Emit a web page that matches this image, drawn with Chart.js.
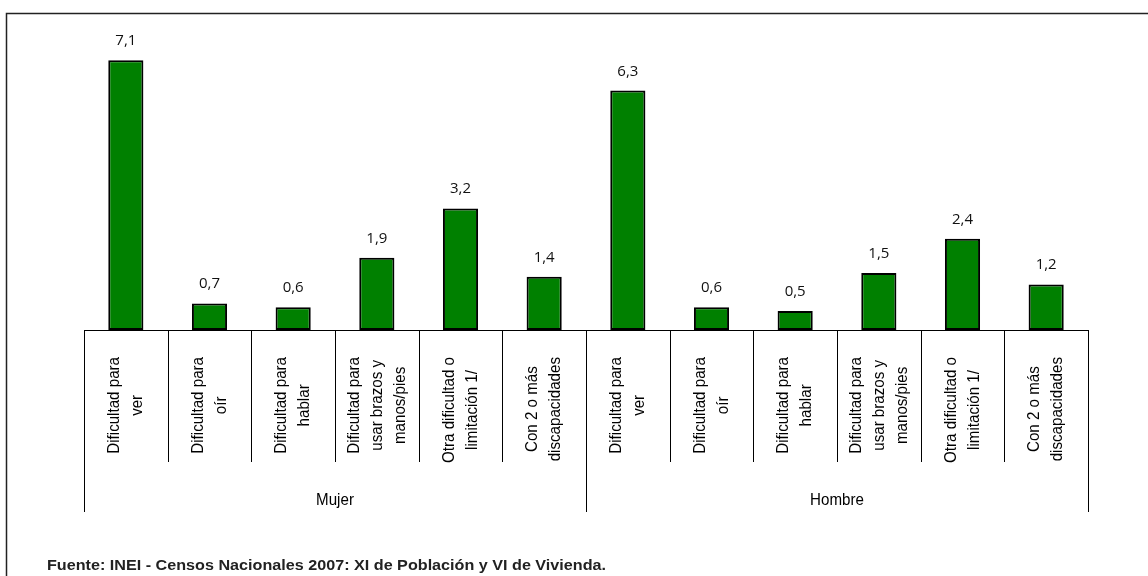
<!DOCTYPE html>
<html>
<head>
<meta charset="utf-8">
<script src="https://cdn.jsdelivr.net/npm/chart.js@4/dist/chart.umd.min.js"></script>
<style>
html,body{margin:0;padding:0;background:#fff;}
canvas{display:block;}
</style>
</head>
<body>
<canvas id="c" width="1148" height="576"></canvas>
<script>
const groups = ['Mujer', 'Hombre'];
const subcategories = [
  ['Dificultad para', 'ver'],
  ['Dificultad para', 'oír'],
  ['Dificultad para', 'hablar'],
  ['Dificultad para', 'usar brazos y', 'manos/pies'],
  ['Otra dificultad o', 'limitación 1/'],
  ['Con 2 o más', 'discapacidades']
];
const mujerValues = [7.1, 0.7, 0.6, 1.9, 3.2, 1.4];
const hombreValues = [6.3, 0.6, 0.5, 1.5, 2.4, 1.2];
const sourceNote = 'Fuente: INEI - Censos Nacionales 2007: XI de Población y VI de Vivienda.';

const labels = [];
const values = [];
groups.forEach((g, gi) => {
  subcategories.forEach((s, si) => {
    labels.push(s);
    values.push(gi === 0 ? mujerValues[si] : hombreValues[si]);
  });
});

const LABEL_FONT = '17px "Liberation Sans", Arial, sans-serif';
const LABEL_SX = 0.89;

const decorPlugin = {
  id: 'decor',
  beforeDraw(chart) {
    const ctx = chart.ctx;
    ctx.save();
    ctx.fillStyle = '#fff';
    ctx.fillRect(0, 0, chart.width, chart.height);
    ctx.strokeStyle = '#222';
    ctx.lineWidth = 1.5;
    ctx.beginPath();
    ctx.moveTo(6.5, 576);
    ctx.lineTo(6.5, 13.5);
    ctx.lineTo(1148, 13.5);
    ctx.stroke();
    ctx.restore();
  },
  afterDatasetsDraw(chart) {
    const ctx = chart.ctx;
    const xs = chart.scales.x;
    const ca = chart.chartArea;
    const n = labels.length;
    const step = (ca.right - ca.left) / n;
    const perGroup = subcategories.length;
    ctx.save();
    ctx.strokeStyle = '#000';
    ctx.lineWidth = 1;
    ctx.beginPath();
    ctx.moveTo(ca.left, Math.round(ca.bottom) + 0.5);
    ctx.lineTo(ca.right, Math.round(ca.bottom) + 0.5);
    ctx.stroke();
    for (let k = 0; k <= n; k++) {
      const x = Math.round(xs.getPixelForValue(Math.min(k, n - 1)) + (k === n ? step / 2 : -step / 2)) + 0.5;
      const isGroup = k % perGroup === 0;
      ctx.beginPath();
      ctx.moveTo(x, ca.bottom);
      ctx.lineTo(x, isGroup ? 512 : 462);
      ctx.stroke();
    }
    ctx.fillStyle = '#111';
    ctx.font = '15px "Open Sans", sans-serif';
    ctx.textAlign = 'center';
    ctx.textBaseline = 'alphabetic';
    const meta = chart.getDatasetMeta(0);
    meta.data.forEach((bar, i) => {
      ctx.fillText(values[i].toFixed(1).replace('.', ','), bar.x, bar.y - 15);
    });
    ctx.font = LABEL_FONT;
    ctx.fillStyle = '#000';
    const lineH = 23;
    labels.forEach((lines, i) => {
      const cx = xs.getPixelForValue(i);
      const widths = lines.map(l => ctx.measureText(l).width * LABEL_SX);
      const maxW = Math.max(...widths);
      const cy = 357 + maxW / 2;
      lines.forEach((l, li) => {
        const lx = cx + (li - (lines.length - 1) / 2) * lineH;
        ctx.save();
        ctx.translate(lx, cy);
        ctx.rotate(-Math.PI / 2);
        ctx.scale(LABEL_SX, 1);
        ctx.textAlign = 'center';
        ctx.textBaseline = 'middle';
        ctx.fillText(l, 0, 0);
        ctx.restore();
      });
    });
    groups.forEach((g, gi) => {
      const first = xs.getPixelForValue(gi * perGroup) - step / 2;
      const last = xs.getPixelForValue(gi * perGroup + perGroup - 1) + step / 2;
      ctx.save();
      ctx.translate((first + last) / 2, 500);
      ctx.scale(LABEL_SX, 1);
      ctx.textAlign = 'center';
      ctx.textBaseline = 'middle';
      ctx.fillText(g, 0, 0);
      ctx.restore();
    });
    ctx.font = 'bold 15.5px "Liberation Sans", Arial, sans-serif';
    const w = ctx.measureText(sourceNote).width;
    const sx = 559 / w;
    ctx.save();
    ctx.translate(47, 566);
    ctx.scale(sx, 1);
    ctx.textAlign = 'left';
    ctx.textBaseline = 'middle';
    ctx.fillStyle = '#222';
    ctx.fillText(sourceNote, 0, 0);
    ctx.restore();
    ctx.restore();
  }
};

new Chart(document.getElementById('c'), {
  type: 'bar',
  data: {
    labels: labels.map(l => l.join(' ')),
    datasets: [{
      data: values,
      backgroundColor: '#008000',
      borderColor: '#000',
      borderWidth: 2,
      borderSkipped: false,
      categoryPercentage: 1,
      barPercentage: 0.42
    }]
  },
  options: {
    responsive: false,
    animation: false,
    devicePixelRatio: 1,
    layout: { padding: { left: 84, right: 60, top: 26, bottom: 246 } },
    plugins: { legend: { display: false }, tooltip: { enabled: false } },
    scales: {
      x: { display: false },
      y: { display: false, min: 0, max: 8 }
    }
  },
  plugins: [decorPlugin]
});
</script>
</body>
</html>
